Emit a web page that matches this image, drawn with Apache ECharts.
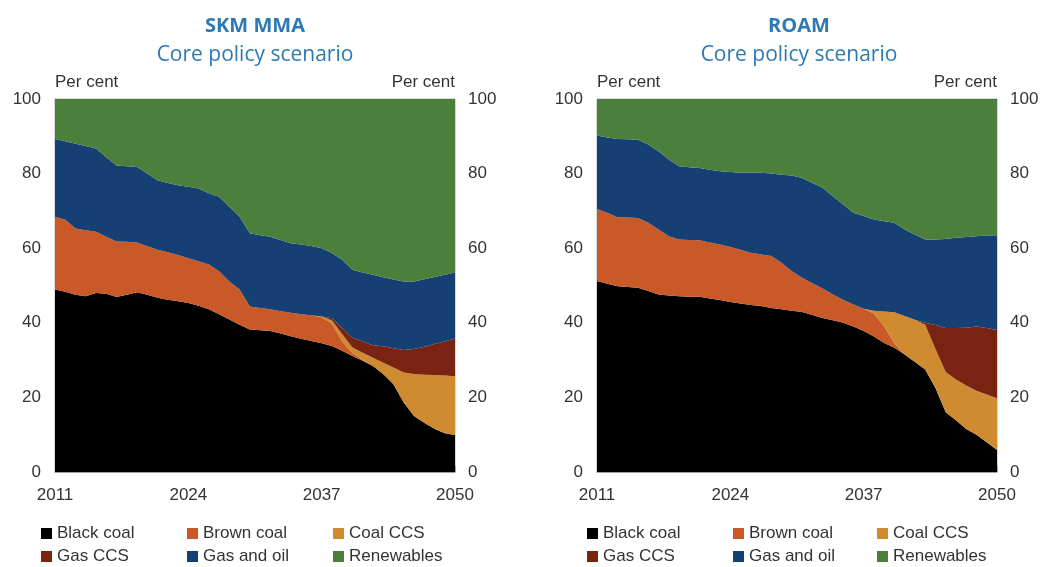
<!DOCTYPE html>
<html>
<head>
<meta charset="utf-8">
<script src="https://cdn.jsdelivr.net/npm/echarts@6/dist/echarts.min.js"></script>
<style>html,body{margin:0;padding:0;background:#fff}#c{width:1046px;height:567px}</style>
</head>
<body>
<div id="c"></div>
<script>
const years = [];
for (let y = 2011; y <= 2050; y++) years.push(String(y));
const yTicks = [0, 20, 40, 60, 80, 100];
const seriesNames = ['Black coal', 'Brown coal', 'Coal CCS', 'Gas CCS', 'Gas and oil', 'Renewables'];
const titles = ['SKM MMA', 'ROAM'];
const subtitle = 'Core policy scenario';

// SKM MMA core policy scenario (per cent)
const skmBlackCoal = [48.9,48.3,47.5,47.1,48.0,47.8,46.9,47.5,48.2,47.5,46.7,46.2,45.8,45.3,44.6,43.6,42.3,40.9,39.5,38.2,38.0,37.8,37.1,36.4,35.7,35.1,34.5,33.8,32.5,31.1,29.8,28.4,26.3,23.5,18.6,15.0,13.2,11.6,10.4,9.9];
const skmBrownCoal = [19.5,19.3,17.8,17.7,16.4,15.3,14.9,14.2,13.3,13.0,12.9,12.7,12.4,12.0,11.9,12.0,11.5,10.2,9.4,6.2,6.0,5.8,6.0,6.3,6.6,6.9,7.0,6.0,2.5,0.8,0.3,0,0,0,0,0,0,0,0,0];
const skmCoalCCS = [0,0,0,0,0,0,0,0,0,0,0,0,0,0,0,0,0,0,0,0,0,0,0,0,0,0,0.2,0.8,2.0,1.5,1.9,2.2,3.0,4.5,8.1,11.3,12.9,14.4,15.5,15.8];
const skmGasCCS = [0,0,0,0,0,0,0,0,0,0,0,0,0,0,0,0,0,0,0,0,0,0,0,0,0,0,0,0.6,1.6,2.6,3.0,3.4,4.4,5.2,6.0,6.7,7.5,8.3,9.1,10.1];
const skmGasOil = [20.9,21.1,22.7,22.6,22.3,21.3,20.4,20.3,20.3,19.5,18.6,18.6,18.7,19.2,19.5,19.1,20.0,20.0,19.5,19.6,19.5,19.5,19.1,18.6,18.7,18.6,18.3,17.5,18.3,18.2,18.5,18.9,18.5,18.4,18.4,18.1,18.1,18.0,17.9,17.7];
const skmRenewables = [10.7,11.3,12.0,12.6,13.3,15.6,17.8,18.0,18.2,20.0,21.8,22.5,23.1,23.5,24.0,25.3,26.2,28.9,31.6,36.0,36.5,36.9,37.8,38.7,39.0,39.4,40.0,41.3,43.1,45.8,46.5,47.1,47.8,48.4,48.9,48.9,48.3,47.7,47.1,46.5];

// ROAM core policy scenario (per cent)
const roamBlackCoal = [51.2,50.5,49.8,49.6,49.4,48.5,47.6,47.3,47.1,47.0,47.0,46.5,46.1,45.6,45.2,44.8,44.5,44.0,43.6,43.2,42.9,42.1,41.3,40.7,40.0,39.0,37.8,36.3,34.6,33.3,31.5,29.5,27.5,22.5,16.0,13.9,11.5,10.0,8.0,5.9];
const roamBrownCoal = [19.3,19.0,18.5,18.6,18.7,18.3,17.4,15.9,15.2,15.2,15.1,15.0,14.9,14.7,14.4,14.0,13.8,13.9,12.5,10.6,9.2,8.5,7.9,6.9,6.2,5.9,6.0,6.2,4.4,1.2,0,0,0,0,0,0,0,0,0,0];
const roamCoalCCS = [0,0,0,0,0,0,0,0,0,0,0,0,0,0,0,0,0,0,0,0,0,0,0,0,0,0,0,0.7,4.0,8.3,10.3,11.3,12.0,10.5,10.8,10.9,11.7,11.8,12.8,13.9];
const roamGasCCS = [0,0,0,0,0,0,0,0,0,0,0,0,0,0,0,0,0,0,0,0,0,0,0,0,0,0,0,0,0,0,0,0,0.5,6.4,11.8,13.8,15.5,17.2,17.8,18.3];
const roamGasOil = [19.7,20.2,21.0,21.0,21.0,21.0,21.0,20.6,19.7,19.5,19.4,19.5,19.6,20.1,20.6,21.4,21.9,22.1,23.6,25.7,26.7,26.9,27.0,26.3,25.5,24.6,24.8,24.5,24.2,24.0,23.2,22.9,22.3,22.9,23.9,24.2,24.3,24.2,24.8,25.4];
const roamRenewables = [9.8,10.3,10.7,10.8,10.9,12.2,14.0,16.2,18.0,18.3,18.5,19.0,19.4,19.6,19.8,19.8,19.8,20.0,20.3,20.5,21.2,22.5,23.8,26.1,28.3,30.5,31.4,32.3,32.8,33.2,35.0,36.3,37.7,37.7,37.5,37.2,37.0,36.8,36.6,36.5];

const colors = ['#000000', '#c95a27', '#d08a30', '#7a2312', '#163f74', '#4b7f3b'];
const titleColor = '#2c79b5';
const txt = '#333333';
const font = 'Liberation Sans, Arial, sans-serif';
const titleFont = 'Open Sans, DejaVu Sans, sans-serif';

const dataSets = [
  [skmBlackCoal, skmBrownCoal, skmCoalCCS, skmGasCCS, skmGasOil, skmRenewables],
  [roamBlackCoal, roamBrownCoal, roamCoalCCS, roamGasCCS, roamGasOil, roamRenewables]
];

const grids = [
  {left: 55, width: 400, top: 99, height: 373},
  {left: 597, width: 400, top: 99, height: 373}
];
const centers = [250, 794];

const option = {
  animation: false,
  color: colors,
  title: titles.map((t, i) => ({
    text: t, subtext: subtitle, left: centers[i], textAlign: 'center', top: 11, itemGap: 9,
    textStyle: {fontFamily: titleFont, fontSize: 20, fontWeight: 'bold', color: titleColor},
    subtextStyle: {fontFamily: titleFont, fontSize: 21, color: titleColor}
  })),
  grid: grids.map(g => Object.assign({show: true, borderColor: '#b0b0b0', borderWidth: 1, backgroundColor: 'transparent'}, g)),
  xAxis: [0, 1].map(i => ({
    type: 'category', gridIndex: i, data: years, boundaryGap: false,
    axisLine: {show: true, lineStyle: {color: '#a0a0a0'}},
    axisTick: {show: true, inside: true, length: 6, interval: 12, lineStyle: {color: '#a0a0a0'}},
    axisLabel: {interval: 12, margin: 15, fontFamily: font, fontSize: 17, color: txt, showMinLabel: true, showMaxLabel: true},
    splitLine: {show: false}
  })),
  yAxis: [],
  legend: [],
  series: []
};

[0, 1].forEach(i => {
  ['left', 'right'].forEach(pos => {
    option.yAxis.push({
      type: 'value', gridIndex: i, position: pos, min: 0, max: 100, interval: 20,
      name: 'Per cent', nameLocation: 'end', nameGap: 8,
      nameTextStyle: {fontFamily: font, fontSize: 17, color: txt, align: pos === 'left' ? 'left' : 'right'},
      axisLine: {show: false}, axisTick: {show: false}, splitLine: {show: false},
      axisLabel: {margin: pos === 'left' ? 14 : 13, fontFamily: font, fontSize: 17, color: txt,
        formatter: v => yTicks.includes(v) ? String(v) : ''}
    });
  });
  seriesNames.forEach((n, k) => {
    option.series.push({
      name: n, type: 'line', xAxisIndex: i, yAxisIndex: i * 2, stack: 'mix' + i,
      data: dataSets[i][k], showSymbol: false, symbol: 'none', smooth: false,
      lineStyle: {width: 0}, areaStyle: {color: colors[k], opacity: 1},
      itemStyle: {color: colors[k]}
    });
  });
});

const legendCols = [[41, 187, 333], [587, 733, 877]];
const legendRows = [525, 548];
const legendGrid = [['Black coal', 'Brown coal', 'Coal CCS'], ['Gas CCS', 'Gas and oil', 'Renewables']];
legendCols.forEach(cols => {
  legendRows.forEach((top, r) => {
    cols.forEach((x, c) => {
      option.legend.push({
        left: x, top: top, itemWidth: 11, itemHeight: 11, padding: 0,
        selectedMode: false, icon: 'rect', data: [legendGrid[r][c]],
        textStyle: {fontFamily: font, fontSize: 17, color: txt}
      });
    });
  });
});

const chart = echarts.init(document.getElementById('c'));
chart.setOption(option);
</script>
</body>
</html>
